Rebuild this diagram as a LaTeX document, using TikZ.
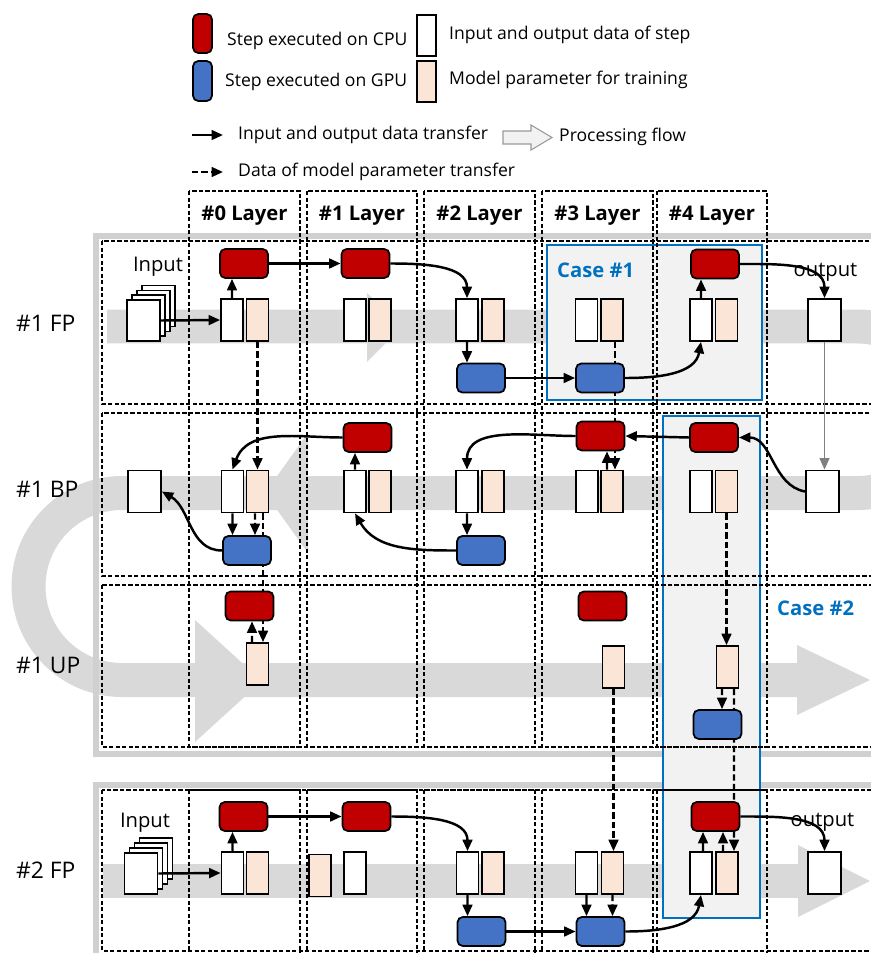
\documentclass[tikz,border=0pt]{standalone}
\usepackage{fontspec}
\setmainfont{Open Sans}
\usepackage{tikz}
\usetikzlibrary{arrows.meta,backgrounds}
\definecolor{cpured}{HTML}{C00000}
\definecolor{gpublue}{HTML}{4472C4}
\definecolor{parpink}{HTML}{FBE5D6}
\definecolor{caseblue}{HTML}{0070C0}
\definecolor{casegray}{HTML}{F2F2F2}
\definecolor{bandgray}{HTML}{D9D9D9}
\definecolor{framegray}{HTML}{D0D0D0}

\begin{document}
\begin{tikzpicture}[
  x=0.02cm,y=-0.02cm,
  font=\fontsize{10}{12}\selectfont,
  cpu/.style={draw,line width=1pt,rounded corners=3pt,fill=cpured,minimum width=0.96cm,minimum height=0.58cm,inner sep=0pt},
  gpu/.style={cpu,fill=gpublue},
  dat/.style={draw,line width=1pt,fill=white,minimum width=0.44cm,minimum height=0.84cm,inner sep=0pt},
  par/.style={dat,fill=parpink},
  outbox/.style={dat,minimum width=0.66cm},
  page/.style={dat,minimum width=0.66cm,minimum height=0.82cm},
  hdr/.style={font=\bfseries\fontsize{11.5}{14}\selectfont},
  rowlbl/.style={anchor=west,font=\fontsize{13}{15}\selectfont},
  lbl/.style={font=\fontsize{11.5}{13}\selectfont},
  casetxt/.style={anchor=west,text=caseblue,font=\bfseries\fontsize{11.5}{14}\selectfont},
  cellbox/.style={draw,line width=0.8pt,dash pattern=on 2.5pt off 1.2pt},
  casebox/.style={draw=caseblue,line width=1.6pt,fill=casegray},
  frame/.style={draw=framegray,line width=0.12cm},
  flowband/.style={draw=bandgray,line width=0.68cm},
  arr/.style={-{Triangle[length=6.5pt,width=5.5pt]},line width=1.4pt},
  darr/.style={arr,dash pattern=on 3.6pt off 1.8pt},
  garr/.style={arr,draw=gray,line width=1.1pt}
]
\useasboundingbox (0,0) rectangle (870,953);
\clip (0,0) rectangle (870,953);

% legend
\node[cpu,minimum width=0.38cm,minimum height=0.78cm] (lgcpu) at (202.5,33.5) {};
\node[anchor=west] (lgcputxt) at (221,41) {Step executed on CPU};
\node[gpu,minimum width=0.38cm,minimum height=0.8cm] (lggpu) at (202.5,81) {};
\node[anchor=west] (lggputxt) at (219,82) {Step executed on GPU};
\node[dat,minimum width=0.38cm,minimum height=0.82cm] (lgdat) at (426.5,35.5) {};
\node[anchor=west] (lgdattxt) at (443,35) {Input and output data of step};
\node[par,minimum width=0.38cm,minimum height=0.82cm] (lgpar) at (426.5,81.5) {};
\node[anchor=west] (lgpartxt) at (443,80) {Model parameter for training};
\coordinate (lgas) at (192,135);
\coordinate (lgae) at (223,135);
\draw[arr] (lgas) -- (lgae);
\node[anchor=west] (lgatxt) at (232,135) {Input and output data transfer};
\coordinate (lgds) at (192,172);
\coordinate (lgde) at (223,172);
\draw[darr] (lgds) -- (lgde);
\node[anchor=west] (lgdtxt) at (232,172) {Data of model parameter transfer};
\draw[draw=gray!80,fill=casegray,line width=0.6pt] (503,131) -- (531,131) -- (531,125) -- (552,137.5) -- (531,150) -- (531,144) -- (503,144) -- cycle;
\node[anchor=west] (lgftxt) at (553,137) {Processing flow};

% layer headers and row labels
\foreach \x/\n in {244.5/0,362/1,479.5/2,597.5/3,712/4}
  \node[hdr] (hdr\n) at (\x,216) {\#\n{} Layer};
\node[rowlbl] (rfp1) at (10,323) {\#1 FP};
\node[rowlbl] (rbp1) at (10,489) {\#1 BP};
\node[rowlbl] (rup1) at (10,665) {\#1 UP};
\node[rowlbl] (rfp2) at (10,870) {\#2 FP};
\node[casetxt] (case1) at (551,270) {Case \#1};
\node[casetxt] (case2) at (771,608) {Case \#2};

% #1 FP
\foreach \k in {3,2,1}
  \node[page] (fpin\k) at ({143.5+5*\k},{320.5-4.8*\k}) {};
\node[page] (fpin) at (143.5,320.5) {};
\node[lbl] (fpinlbl) at (158,267) {Input};
\node[dat] (fp0d) at (232,320) {};
\node[par] (fp0p) at (257.5,320) {};
\node[cpu] (fp0c) at (244,263.5) {};
\node[dat] (fp1d) at (355,320) {};
\node[par] (fp1p) at (380,320) {};
\node[cpu] (fp1c) at (365.5,263.5) {};
\node[dat] (fp2d) at (467,320) {};
\node[par] (fp2p) at (493,320) {};
\node[gpu] (fp2g) at (481,378) {};
\node[dat] (fp3d) at (586.5,320) {};
\node[par] (fp3p) at (612,320) {};
\node[gpu] (fp3g) at (600,378) {};
\node[dat] (fp4d) at (701,320) {};
\node[par] (fp4p) at (726.5,320) {};
\node[cpu] (fp4c) at (715,264) {};
\node[outbox] (fpout) at (824.5,320) {};
\node[lbl] (fpoutlbl) at (825.5,272) {output};

% #1 BP
\node[outbox] (bpout) at (144.5,491.5) {};
\node[dat] (bp0d) at (232.5,491.5) {};
\node[par] (bp0p) at (257.5,491.5) {};
\node[gpu] (bp0g) at (247,550.5) {};
\node[dat] (bp1d) at (355,491.5) {};
\node[par] (bp1p) at (380,491.5) {};
\node[cpu] (bp1c) at (367.5,437.5) {};
\node[dat] (bp2d) at (467,491.5) {};
\node[par] (bp2p) at (493,491.5) {};
\node[gpu] (bp2g) at (481,550.5) {};
\node[dat] (bp3d) at (587,491.5) {};
\node[par] (bp3p) at (612,491.5) {};
\node[cpu] (bp3c) at (600.5,436) {};
\node[dat] (bp4d) at (701,491.5) {};
\node[par] (bp4p) at (726.5,491.5) {};
\node[cpu] (bp4c) at (714,437.5) {};
\node[outbox] (bpin) at (822.5,491.5) {};

% #1 UP
\node[cpu] (up0c) at (249.5,606) {};
\node[par] (up0p) at (257.5,664) {};
\node[cpu] (up3c) at (602.5,606) {};
\node[par] (up3p) at (613.5,667) {};
\node[par] (up4p) at (727.5,667) {};
\node[gpu] (up4g) at (717.5,724.5) {};

% #2 FP
\foreach \k in {3,2,1}
  \node[page] (sfin\k) at ({141+5*\k},{873.5-5*\k}) {};
\node[page] (sfin) at (141,873.5) {};
\node[lbl] (sfinlbl) at (145,823) {Input};
\node[dat] (sf0d) at (232.5,873) {};
\node[par] (sf0p) at (257.5,873) {};
\node[cpu] (sf0c) at (243.5,816.5) {};
\node[par] (sf1p) at (320,875.5) {};
\node[dat] (sf1d) at (355,873) {};
\node[cpu] (sf1c) at (366.5,816.5) {};
\node[dat] (sf2d) at (467.5,873) {};
\node[par] (sf2p) at (493,873) {};
\node[gpu] (sf2g) at (481.5,931.5) {};
\node[dat] (sf3d) at (586.5,873) {};
\node[par] (sf3p) at (612.5,873) {};
\node[gpu] (sf3g) at (600.5,931.5) {};
\node[dat] (sf4d) at (701,873) {};
\node[par] (sf4p) at (727,873) {};
\node[cpu] (sf4c) at (715.5,816.5) {};
\node[outbox] (sfout) at (824.5,873) {};
\node[lbl] (sfoutlbl) at (822.5,822) {output};

% #1 FP transfers
\draw[arr] (fpin.east) -- (fp0d.west);
\draw[arr] (fp0d.north) -- ([xshift=-0.24cm]fp0c.south);
\draw[arr] (fp0c.east) -- (fp1c.west);
\draw[arr] (fp1c.east) to[out=0,in=90] (fp2d.north);
\draw[arr] (fp2d.south) -- ([xshift=-0.28cm]fp2g.north);
\draw[arr] (fp2g.east) -- (fp3g.west);
\draw[arr] (fp3g.east) to[out=0,in=-100] (fp4d.south);
\draw[arr] (fp4d.north) -- ([xshift=-0.28cm]fp4c.south);
\draw[arr] (fp4c.east) to[out=0,in=90] (fpout.north);
\draw[darr] (fp0p.south) -- (bp0p.north);
\draw[garr] (fpout.south) -- (fpout.south |- bpin.north);

% #1 BP transfers
\draw[arr] (bpin.west) to[out=170,in=0] (bp4c.east);
\draw[arr] (bp4c.west) -- (bp3c.east);
\draw[arr] (bp3c.west) to[out=180,in=90] (bp2d.north);
\draw[arr] ([xshift=-0.1cm]bp3p.north) -- ([xshift=0.13cm]bp3c.south);
\draw[arr] (bp2d.south) -- ([xshift=-0.28cm]bp2g.north);
\draw[arr] (bp2g.west) to[out=180,in=-60] (bp1d.south);
\draw[arr] (bp1d.north) -- ([xshift=-0.25cm]bp1c.south);
\draw[arr] (bp1c.west) to[out=180,in=70] (bp0d.north);
\draw[arr] (bp0d.south) -- ([xshift=-0.29cm]bp0g.north);
\draw[darr] ([xshift=-0.05cm]bp0p.south) -- ([xshift=0.16cm]bp0g.north);
\draw[arr] (bp0g.west) to[out=180,in=-30] (bpout.east);
\draw[darr] (bp4p.south) -- (bp4p.south |- up4p.north);

% #1 UP transfers
\draw[darr] ([xshift=-0.11cm]up0p.north) -- ([xshift=0.05cm]up0c.south);
\draw[darr] ([xshift=-0.11cm]up4p.south) -- ([xshift=0.09cm]up4g.north);
\draw[darr] (up3p.south) -- (up3p.south |- sf3p.north);

% #2 FP transfers
\draw[arr] (sfin.east) -- (sf0d.west);
\draw[arr] (sf0d.north) -- ([xshift=-0.22cm]sf0c.south);
\draw[arr] (sf0c.east) -- (sf1c.west);
\draw[arr] (sf1c.east) to[out=0,in=90] (sf2d.north);
\draw[arr] (sf2d.south) -- ([xshift=-0.28cm]sf2g.north);
\draw[arr] (sf2g.east) -- (sf3g.west);
\draw[arr] (sf3d.south) -- ([xshift=-0.28cm]sf3g.north);
\draw[darr] (sf3p.south) -- ([xshift=0.24cm]sf3g.north);
\draw[arr] (sf3g.east) to[out=0,in=-100] (sf4d.south);
\draw[arr] ([xshift=0.04cm]sf4d.north) -- ([xshift=-0.25cm]sf4c.south);
\draw[darr] ([xshift=-0.08cm]sf4p.north) -- ([xshift=0.15cm]sf4c.south);
\draw[arr] (sf4c.east) to[out=0,in=90] (sfout.north);

\begin{scope}[on background layer]
  % processing flow
  \draw[flowband] (107,326.5) -- (858,326.5)
    .. controls (904,326.5) and (941.25,363.8) .. (941.25,409.75)
    .. controls (941.25,455.7) and (904,493) .. (858,493) -- (122,493)
    .. controls (70.36,493) and (28.5,534.86) .. (28.5,586.5)
    .. controls (28.5,638.14) and (70.36,680) .. (122,680) -- (798,680);
  \fill[bandgray] (367,293) -- (402,326.5) -- (367,362) -- cycle;
  \fill[bandgray] (308,433) -- (265,493) -- (308,553) -- cycle;
  \fill[bandgray] (195,620) -- (262,681) -- (195,742) -- cycle;
  \fill[bandgray] (797,645) -- (870,680) -- (797,715) -- cycle;
  \draw[flowband] (103,880.5) -- (799,880.5);
  \fill[bandgray] (798,845) -- (870,881) -- (798,917) -- cycle;
  \draw[frame] (95.5,236) rectangle (950,754);
  \draw[frame] (95.5,784.5) rectangle (950,1000);
  \draw[casebox] (547,245) rectangle (762,400);
  \draw[casebox] (663,416) rectangle (760,918);
  % rows and layers
  \foreach \t/\b in {241/404,413/576,585/747,790/951}
    \draw[cellbox] (102,\t) rectangle (950,\b);
  \foreach \l/\r in {189/300,307/417,424/535,542/653,657/767} {
    \draw[cellbox] (\l,191) rectangle (\r,747);
    \draw[cellbox] (\l,790) rectangle (\r,990);
  }
  % parameters passed behind the steps
  \draw[darr] ([xshift=0.06cm]fp3p.south) -- ([xshift=0.06cm]bp3p.north);
  \draw[darr] ([xshift=0.11cm]bp0p.south) -- ([xshift=0.11cm]up0p.north);
  \draw[darr] ([xshift=0.13cm]up4p.south) -- ([xshift=0.14cm]sf4p.north);
\end{scope}

\end{tikzpicture}
\end{document}
